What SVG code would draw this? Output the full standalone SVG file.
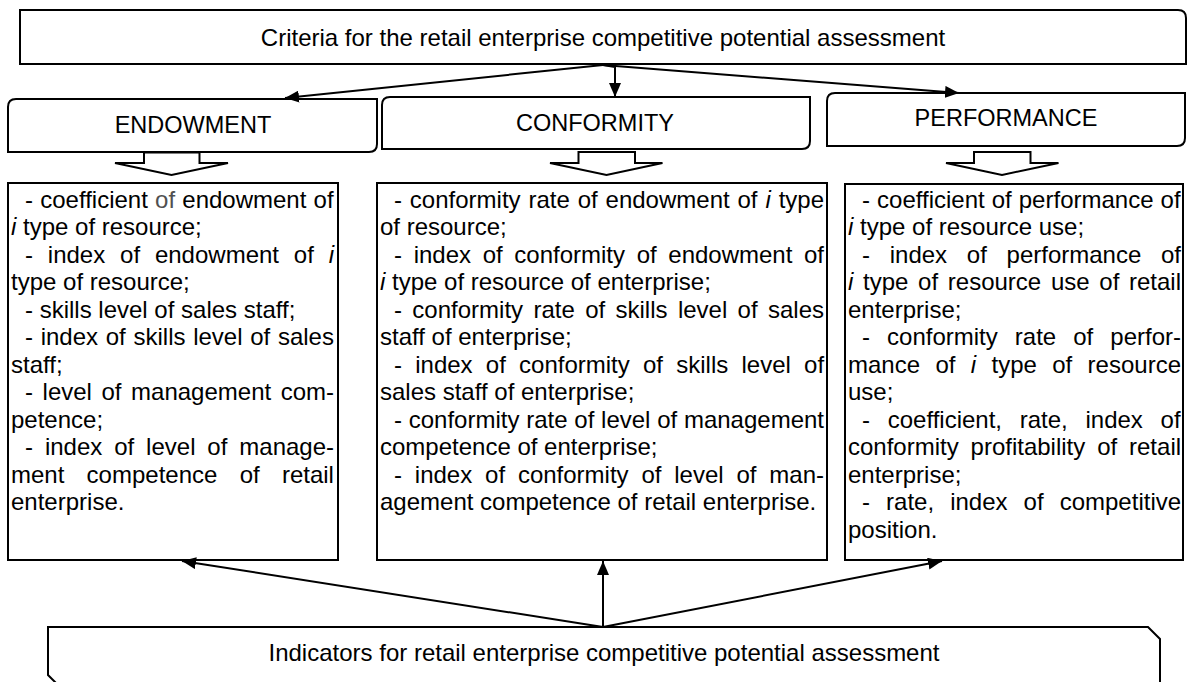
<svg xmlns="http://www.w3.org/2000/svg" width="1189" height="682" viewBox="0 0 1189 682">
<style>
.box{fill:#fff;stroke:#000;stroke-width:2}
.con{fill:none;stroke:#000;stroke-width:2}
.t{font-family:"Liberation Sans",Arial,sans-serif;font-size:24px;fill:#000}
.h{font-family:"Liberation Sans",Arial,sans-serif;font-size:23.5px;fill:#000;text-anchor:middle}
.c{text-anchor:middle}
.i{font-style:italic}
</style>
<defs>
<marker id="ah" viewBox="0 0 14 12" refX="14" refY="6" markerWidth="14" markerHeight="12" markerUnits="userSpaceOnUse" orient="auto">
<path d="M0,0 L14,6 L0,12 Z" fill="#000"/>
</marker>
</defs>
<rect width="1189" height="682" fill="#fff"/>

<g id="top-criteria">
<path class="box" d="M20,10 H1178 Q1186,10 1186,18 V64 H20 Z"/>
<text class="t c" x="603" y="46">Criteria for the retail enterprise competitive potential assessment</text>
</g>

<g id="endowment">
<path class="box" d="M16,99 H377 V144 Q377,152 369,152 H8 V107 Q8,99 16,99 Z"/>
<text class="h" x="193" y="133">ENDOWMENT</text>
<path class="box" d="M144,152.5 H199.5 V163 H228 L171.5,175 L115,163 H144 Z"/>
</g>

<g id="conformity">
<path class="box" d="M390,97 H810 V141 Q810,149 802,149 H382 V105 Q382,97 390,97 Z"/>
<text class="h" x="595" y="131">CONFORMITY</text>
<path class="box" d="M578.5,152 H635 V163 H662.5 L606.5,175 L550,163 H578.5 Z"/>
</g>

<g id="performance">
<path class="box" d="M835,93 H1185 V138 Q1185,146 1177,146 H827 V101 Q827,93 835,93 Z"/>
<text class="h" x="1006" y="126">PERFORMANCE</text>
<path class="box" d="M974,152 H1030.5 V163 H1058.5 L1002,175 L946,163 H974 Z"/>
</g>

<g id="endowment-list">
<rect class="box" x="8" y="183" width="330" height="377"/>
<text class="t" x="25" y="207.5" style="word-spacing:0.55px">- coefficient <tspan fill="#505050">of</tspan> endowment of</text>
<text class="t" x="11" y="235"><tspan class="i">i</tspan> type of resource;</text>
<text class="t" x="25" y="262.5" style="word-spacing:8.18px">- index of endowment of <tspan class="i">i</tspan></text>
<text class="t" x="11" y="290">type of resource;</text>
<text class="t" x="25" y="317.5">- skills level of sales staff;</text>
<text class="t" x="25" y="345" style="word-spacing:1.03px">- index of skills level of sales</text>
<text class="t" x="11" y="372.5">staff;</text>
<text class="t" x="25" y="400" style="word-spacing:2.9px">- level of management com-</text>
<text class="t" x="11" y="427.5">petence;</text>
<text class="t" x="25" y="455" style="word-spacing:5.24px">- index of level of manage-</text>
<text class="t" x="11" y="482.5" style="word-spacing:15.6px">ment competence of retail</text>
<text class="t" x="11" y="510">enterprise.</text>
</g>

<g id="conformity-list">
<rect class="box" x="377" y="183" width="450" height="377"/>
<text class="t" x="394" y="207.5" style="word-spacing:1.21px">- conformity rate of endowment of <tspan class="i">i</tspan> type</text>
<text class="t" x="380" y="235">of resource;</text>
<text class="t" x="394" y="262.5" style="word-spacing:4.97px">- index of conformity of endowment of</text>
<text class="t" x="380" y="290"><tspan class="i">i</tspan> type of resource of enterprise;</text>
<text class="t" x="394" y="317.5" style="word-spacing:3.7px">- conformity rate of skills level of sales</text>
<text class="t" x="380" y="345">staff of enterprise;</text>
<text class="t" x="394" y="372.5" style="word-spacing:6.56px">- index of conformity of skills level of</text>
<text class="t" x="380" y="400">sales staff of enterprise;</text>
<text class="t" x="394" y="427.5" style="word-spacing:0.08px">- conformity rate of level of management</text>
<text class="t" x="380" y="455">competence of enterprise;</text>
<text class="t" x="394" y="482.5" style="word-spacing:6.17px">- index of conformity of level of man-</text>
<text class="t" x="380" y="510">agement competence of retail enterprise.</text>
</g>

<g id="performance-list">
<rect class="box" x="845" y="184" width="338" height="376"/>
<text class="t" x="862" y="207.5" style="word-spacing:0.38px">- coefficient of performance of</text>
<text class="t" x="848" y="235"><tspan class="i">i</tspan> type of resource use;</text>
<text class="t" x="862" y="262.5" style="word-spacing:13.05px">- index of performance of</text>
<text class="t" x="848" y="290" style="word-spacing:3.03px"><tspan class="i">i</tspan> type of resource use of retail</text>
<text class="t" x="848" y="317.5">enterprise;</text>
<text class="t" x="862" y="345" style="word-spacing:10.4px">- conformity rate of perfor-</text>
<text class="t" x="848" y="372.5" style="word-spacing:8.7px">mance of <tspan class="i">i</tspan> type of resource</text>
<text class="t" x="848" y="400">use;</text>
<text class="t" x="862" y="427.5" style="word-spacing:11.05px">- coefficient, rate, index of</text>
<text class="t" x="848" y="455" style="word-spacing:5.2px">conformity profitability of retail</text>
<text class="t" x="848" y="482.5">enterprise;</text>
<text class="t" x="862" y="510" style="word-spacing:9.4px">- rate, index of competitive</text>
<text class="t" x="848" y="537.5">position.</text>
</g>

<g id="bottom-indicators">
<path class="box" d="M48,627 H1148 L1160,639 V687 H60 L48,675 Z"/>
<text class="t c" x="604" y="661">Indicators for retail enterprise competitive potential assessment</text>
</g>

<g id="connectors">
<path class="con" d="M603,65 L285,98" marker-end="url(#ah)"/>
<path class="con" d="M603,65 L615,67 L615,97" marker-end="url(#ah)"/>
<path class="con" d="M603,65 L959,93" marker-end="url(#ah)"/>
<path class="con" d="M603,627 L182,561" marker-end="url(#ah)"/>
<path class="con" d="M603,627 L603,561" marker-end="url(#ah)"/>
<path class="con" d="M603,627 L942,561" marker-end="url(#ah)"/>
</g>
</svg>
